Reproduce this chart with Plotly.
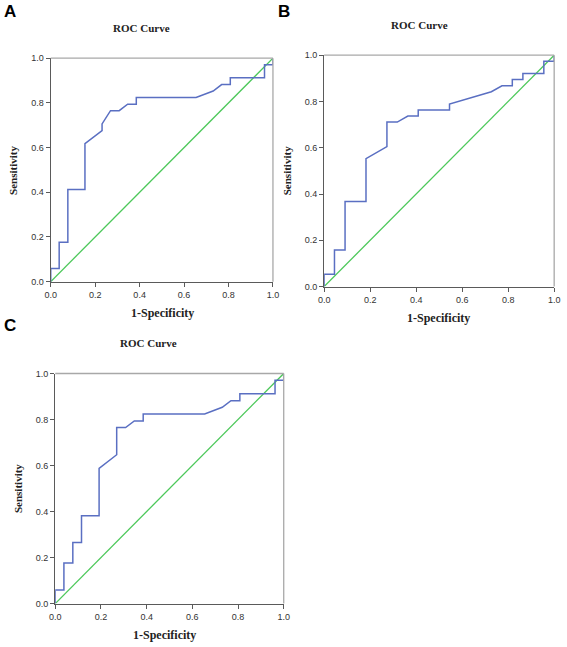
import plotly.graph_objects as go

# ROC points (1-Specificity, Sensitivity)
a_fpr = [0.0, 0.0, 0.038, 0.038, 0.077, 0.077, 0.154, 0.154, 0.231, 0.231, 0.269, 0.308,
         0.346, 0.385, 0.385, 0.654, 0.731, 0.769, 0.808, 0.808, 0.962, 0.962, 1.0, 1.0]
a_tpr = [0.0, 0.059, 0.059, 0.176, 0.176, 0.412, 0.412, 0.618, 0.676, 0.706, 0.765, 0.765,
         0.794, 0.794, 0.824, 0.824, 0.853, 0.882, 0.882, 0.912, 0.912, 0.971, 0.971, 1.0]

b_fpr = [0.0, 0.0, 0.045, 0.045, 0.091, 0.091, 0.182, 0.182, 0.273, 0.273, 0.318, 0.364, 0.409,
         0.409, 0.545, 0.545, 0.727, 0.773, 0.818, 0.818, 0.864, 0.864, 0.955, 0.955, 1.0, 1.0]
b_tpr = [0.0, 0.053, 0.053, 0.158, 0.158, 0.368, 0.368, 0.553, 0.605, 0.711, 0.711, 0.737, 0.737,
         0.763, 0.763, 0.789, 0.842, 0.868, 0.868, 0.895, 0.895, 0.921, 0.921, 0.974, 0.974, 1.0]

c_fpr = [0.0, 0.0, 0.038, 0.038, 0.077, 0.077, 0.115, 0.115, 0.192, 0.192, 0.269, 0.269, 0.308,
         0.346, 0.385, 0.385, 0.654, 0.731, 0.769, 0.808, 0.808, 0.962, 0.962, 1.0, 1.0]
c_tpr = [0.0, 0.059, 0.059, 0.176, 0.176, 0.265, 0.265, 0.382, 0.382, 0.588, 0.647, 0.765, 0.765,
         0.794, 0.794, 0.824, 0.824, 0.853, 0.882, 0.882, 0.912, 0.912, 0.971, 0.971, 1.0]

ref_line = [0.0, 1.0]
tick_vals = [0.0, 0.2, 0.4, 0.6, 0.8, 1.0]
tick_text = ['0.0', '0.2', '0.4', '0.6', '0.8', '1.0']

panels = [
    # letter, fpr, tpr, x domain, y domain (paper)
    ('A', a_fpr, a_tpr, [0.0806, 0.4810], [0.5657, 0.9165]),
    ('B', b_fpr, b_tpr, [0.5732, 0.9877], [0.5580, 0.9212]),
    ('C', c_fpr, c_tpr, [0.0887, 0.5004], [0.0603, 0.4215]),
]
# centre of the "ROC Curve" / "1-Specificity" labels, paper x
title_x = [138 / 567, 422 / 567, 146 / 567]
xlab_x = [160 / 567, 442 / 567, 162 / 567]

BLUE = '#5a6fc2'
GREEN = '#4cc85a'
serif = 'Liberation Serif'

fig = go.Figure()
shapes = []
annots = []

for i, (letter, fpr, tpr, xd, yd) in enumerate(panels):
    n = '' if i == 0 else str(i + 1)
    xa, ya = 'x' + n, 'y' + n
    fig.add_trace(go.Scatter(x=ref_line, y=ref_line, mode='lines', xaxis=xa, yaxis=ya,
                             line=dict(color=GREEN, width=1.3), cliponaxis=False,
                             showlegend=False, hoverinfo='skip'))
    fig.add_trace(go.Scatter(x=fpr, y=tpr, mode='lines', xaxis=xa, yaxis=ya,
                             line=dict(color=BLUE, width=1.5), cliponaxis=False,
                             showlegend=False))
    ax_common = dict(range=[0, 1], tickvals=tick_vals, ticktext=tick_text,
                     showgrid=False, zeroline=False, showline=True, linecolor='#5a5a5a',
                     linewidth=1.3, ticks='outside', ticklen=4, tickcolor='#5a5a5a',
                     tickfont=dict(family='Liberation Sans', size=9, color='#333333'))
    fig.update_layout(**{
        ('xaxis' + n): dict(domain=xd, anchor=ya, **ax_common),
        ('yaxis' + n): dict(domain=yd, anchor=xa, **ax_common),
    })
    # lighter top and right frame
    for x0, y0, x1, y1 in [(0, 1, 1, 1), (1, 0, 1, 1)]:
        shapes.append(dict(type='line', xref=xa + ' domain', yref=ya + ' domain',
                           x0=x0, y0=y0, x1=x1, y1=y1,
                           line=dict(color='#a8a8a8', width=1.3)))
    yc = (yd[0] + yd[1]) / 2
    annots.append(dict(text='<b>ROC Curve</b>', x=title_x[i], y=yd[1] + 0.048,
                       xref='paper', yref='paper', showarrow=False,
                       xanchor='center', yanchor='middle',
                       font=dict(family=serif, size=11, color='#222222')))
    annots.append(dict(text='<b>1-Specificity</b>', x=xlab_x[i], y=yd[0] - 0.05,
                       xref='paper', yref='paper', showarrow=False,
                       xanchor='center', yanchor='middle',
                       font=dict(family=serif, size=12, color='#222222')))
    annots.append(dict(text='<b>Sensitivity</b>', x=xd[0] - 0.068, y=yc, textangle=-90,
                       xref='paper', yref='paper', showarrow=False,
                       xanchor='center', yanchor='middle',
                       font=dict(family=serif, size=11, color='#222222')))

# panel letters
for letter, lx, ly in [('A', -0.008, 0.99), ('B', 0.486, 0.99), ('C', -0.008, 0.497)]:
    annots.append(dict(text='<b>' + letter + '</b>', x=lx, y=ly, xref='paper', yref='paper',
                       showarrow=False, xanchor='left', yanchor='middle',
                       font=dict(family='Liberation Sans', size=17, color='#000000')))

fig.update_layout(
    width=567,
    height=647,
    margin=dict(l=0, r=0, t=0, b=0),
    paper_bgcolor='white',
    plot_bgcolor='white',
    shapes=shapes,
    annotations=annots,
)

# drop the default body margin so the 567x647 figure fills the window exactly
fig.write_html("out.html",
               config={'displayModeBar': False},
               post_script="document.documentElement.style.margin='0';"
                           "document.body.style.margin='0';"
                           "document.body.style.overflow='hidden';")
